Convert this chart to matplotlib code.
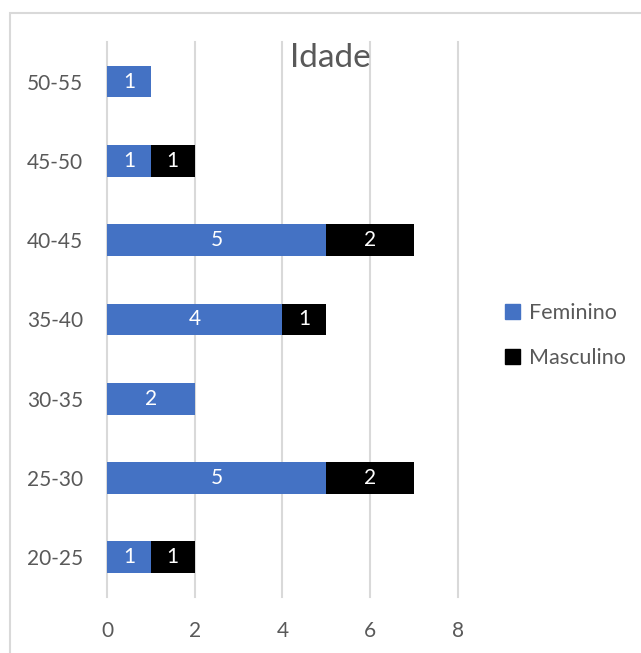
import numpy as np
import matplotlib
matplotlib.use("Agg")
import matplotlib.pyplot as plt
from matplotlib.patches import Rectangle, Patch

plt.rcParams['font.family'] = ['Lato', 'DejaVu Sans']

faixas = ["20-25", "25-30", "30-35", "35-40", "40-45", "45-50", "50-55"]
feminino = [1, 5, 2, 4, 5, 1, 1]
masculino = [1, 2, 0, 1, 2, 1, 0]
x_ticks = [0, 2, 4, 6, 8]

azul = "#4472C4"
preto = "#000000"
cinza_texto = "#595959"
cinza_grade = "#D9D9D9"

fig = plt.figure(figsize=(6.41, 6.53), dpi=100)
ax = fig.add_axes([0.1669, 0.0858, 0.5476, 0.8499])

y = np.arange(len(faixas))
b1 = ax.barh(y, feminino, height=0.4, color=azul, label="Feminino")
b2 = ax.barh(y, masculino, height=0.4, left=feminino, color=preto, label="Masculino")

ax.bar_label(b1, labels=[str(v) if v else "" for v in feminino],
             label_type="center", color="white", fontsize=15)
ax.bar_label(b2, labels=[str(v) if v else "" for v in masculino],
             label_type="center", color="white", fontsize=15)

ax.set_xlim(0, 8)
ax.set_ylim(-0.5, len(faixas) - 0.5)
ax.set_xticks(x_ticks)
ax.set_yticks(y)
ax.set_yticklabels(faixas)
ax.tick_params(length=0, labelsize=15, colors=cinza_texto)
ax.tick_params(axis="y", pad=17)
ax.tick_params(axis="x", pad=17)
for s in ax.spines.values():
    s.set_visible(False)
ax.set_axisbelow(True)
ax.xaxis.grid(True, color=cinza_grade, lw=1.5)
for gl in ax.get_xgridlines():
    gl.set_clip_on(False)

fig.text(0.516, 0.911, "Idade", ha="center", va="center",
         fontsize=24, color=cinza_texto)

handles = [Patch(color=azul, label="Feminino"), Patch(color=preto, label="Masculino")]
fig.legend(handles=handles, loc="center left", bbox_to_anchor=(0.758, 0.486),
           frameon=False, fontsize=15.5, labelcolor=cinza_texto,
           handlelength=0.7, handleheight=0.7, handletextpad=0.4,
           labelspacing=1.15)

# chart frame
fig.patches.append(Rectangle((10 / 641, -0.1), 1.2, 1.1 - 13 / 653,
                             transform=fig.transFigure, fill=False,
                             edgecolor=cinza_grade, lw=1.5))

fig.savefig("out.png", dpi=100)
